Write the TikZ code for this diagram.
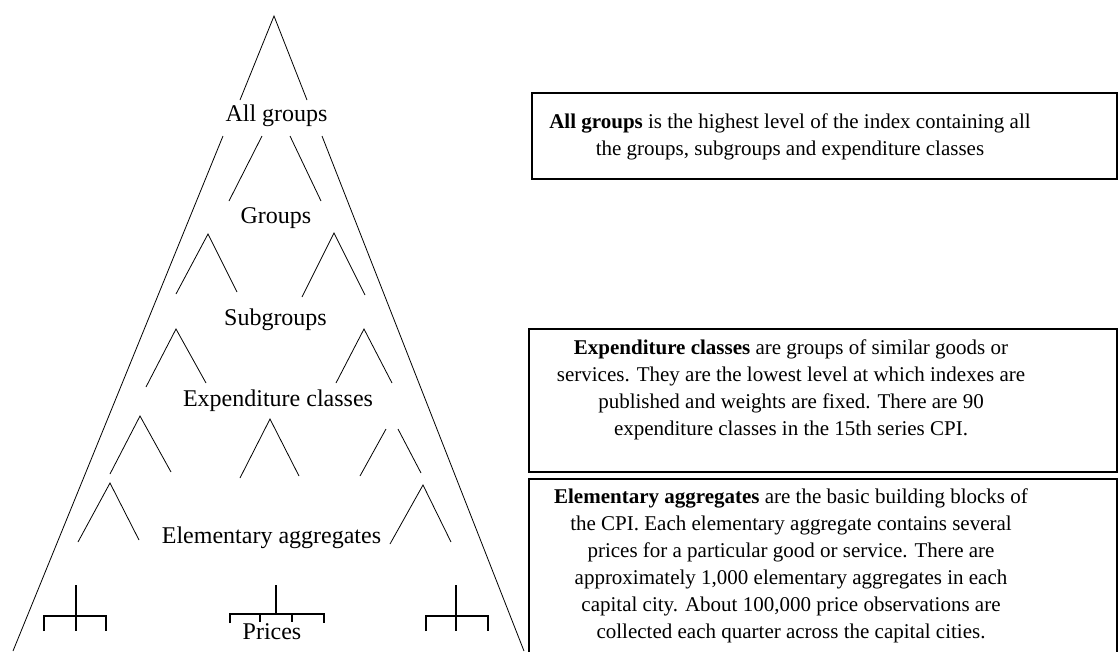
\documentclass[tikz,border=0pt]{standalone}
\usepackage{fontspec}
\setmainfont{Liberation Serif}

\begin{document}
\begin{tikzpicture}[x=1pt,y=-1pt,line width=0.8pt,
  level/.style={font=\fontsize{24}{28}\selectfont,inner sep=0pt},
  info/.style={font=\fontsize{21}{27}\selectfont,align=center,inner sep=0pt},
  bracket/.style={line width=1.5pt},
  boxline/.style={line width=1.3pt}]
  \useasboundingbox (0,0) rectangle (1119,651);
  % outer triangle, broken round the top label
  \draw (240,100) -- (274,16) -- (307,100);
  \draw (223,136) -- (13,651);
  \draw (322,136) -- (524,651);
  \node[level] (allgroups) at (276.5,116) {All groups};
  % groups
  \draw (262,136) -- (229,201);
  \draw (290,136) -- (321,201);
  \node[level] (groups) at (276,218) {Groups};
  % subgroups
  \draw (176,294) -- (208,234) -- (237,292);
  \draw (302,297) -- (334,233) -- (365,295);
  \node[level] (subgroups) at (275.5,320) {Subgroups};
  % expenditure classes
  \draw (146,387) -- (176,329) -- (206,383);
  \draw (336,383) -- (364,329) -- (392,383);
  \node[level] (expclasses) at (278,401) {Expenditure classes};
  % elementary aggregates
  \draw (110,474) -- (140,416) -- (171,472);
  \draw (240,478) -- (270,419) -- (299,476);
  \draw (360,476) -- (386,429);
  \draw (398,429) -- (421,473);
  \draw (78,542) -- (110,483) -- (139,540);
  \draw (390,544) -- (423,485) -- (451,542);
  \node[level] (elemaggs) at (271.5,538) {Elementary aggregates};
  % prices
  \draw[bracket] (76,585) -- (76,631);
  \draw[bracket] (44,631) -- (44,616) -- (106,616) -- (106,631);
  \draw[bracket] (276,585) -- (276,614);
  \draw[bracket] (230,623) -- (230,614) -- (324,614) -- (324,623);
  \draw[bracket] (260,614) -- (260,622);
  \draw[bracket] (292,614) -- (292,622);
  \draw[bracket] (456,585) -- (456,631);
  \draw[bracket] (426,631) -- (426,616) -- (488,616) -- (488,631);
  \node[level] (prices) at (272,632) {Prices};
  % explanation boxes
  \draw[boxline] (532,93) rectangle (1117,179);
  \node[info] (allinfo) at (790,137) {\textbf{All groups} is the highest level of the index containing all\\
    the groups, subgroups and expenditure classes};
  \draw[boxline] (529,329) rectangle (1117,472);
  \node[info] (expinfo) at (791,389.5) {\textbf{Expenditure classes} are groups of similar goods or\\
    services. They are the lowest level at which indexes are\\
    published and weights are fixed. There are 90\\
    expenditure classes in the 15th series CPI.};
  \draw[boxline] (529,479) rectangle (1117,660);
  \node[info] (eleminfo) at (791,565.5) {\textbf{Elementary aggregates} are the basic building blocks of\\
    the CPI. Each elementary aggregate contains several\\
    prices for a particular good or service.  There are\\
    approximately 1,000 elementary aggregates in each\\
    capital city. About 100,000 price observations are\\
    collected each quarter across the capital cities.};
\end{tikzpicture}
\end{document}
